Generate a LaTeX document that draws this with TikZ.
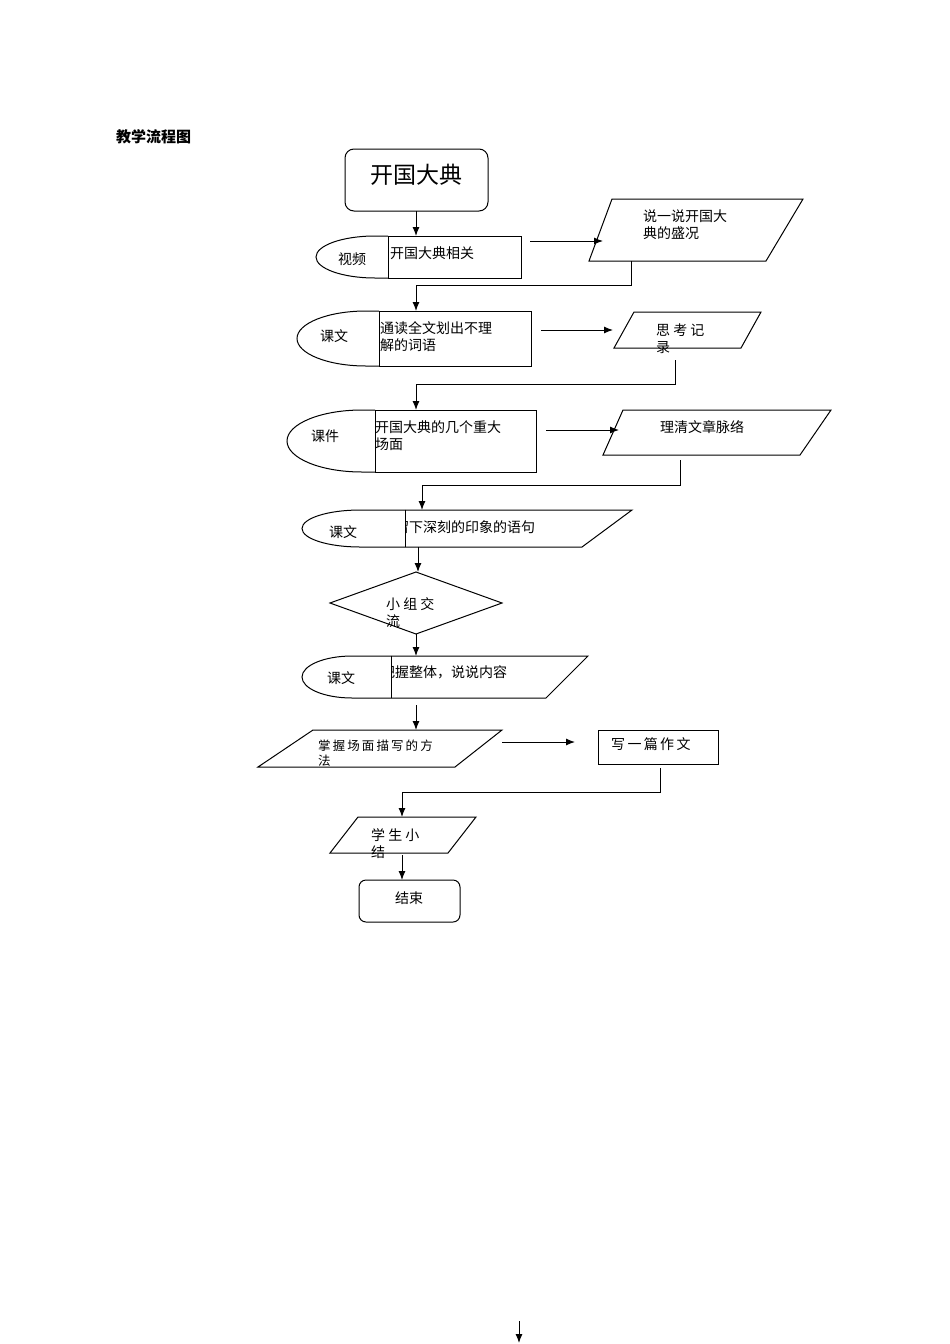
\documentclass[tikz,border=0pt]{standalone}
\usepackage{fontspec}
\setmainfont{Noto Sans CJK SC}
\usetikzlibrary{arrows.meta,calc}
\tikzset{
 ln/.style={draw=black,line width=1pt},
 arr/.style={ln,-{Latex[length=9pt,width=7pt]}},
 tx/.style={font=\fontsize{14}{17}\selectfont,inner sep=0pt,anchor=west,align=left},
 txs/.style={font=\fontsize{12.5}{15}\selectfont,inner sep=0pt,anchor=west,align=left},
}
% D-shape: xl, xa(end of curve), xr, top, bot
\newcommand\dsh[5]{%
 \path[ln,fill=white] (#3,#4) -- (#2,#4) .. controls ({#2-0.552*(#2-#1)},#4) and (#1,{(#4+#5)/2-0.276*(#5-#4)}) .. (#1,{(#4+#5)/2})
 .. controls (#1,{(#4+#5)/2+0.276*(#5-#4)}) and ({#2-0.552*(#2-#1)},#5) .. (#2,#5) -- (#3,#5);}
\begin{document}
\begin{tikzpicture}[x=1pt,y=-1pt]
\useasboundingbox[fill=white] (0,0) rectangle (950,1344);
\node[font=\bfseries\fontsize{15}{18}\selectfont,anchor=west,inner sep=0pt] (title) at (116,137) {教学流程图};
% start
\draw[ln,rounded corners=9pt] (345,149) rectangle (488,211);
\node[font=\fontsize{23}{26}\selectfont,inner sep=0pt] (start) at (416,175) {开国大典};
\coordinate (s1) at (416,211); \coordinate (r1t) at (416,236);
\draw[arr] (s1) -- (r1t);
% row1
\draw[ln] (388,236) rectangle (521,278);
\dsh{316}{375}{388}{236}{278}
\draw[ln] (388,236) -- (388,278);
\node[tx] (v1) at (338,259) {视频};
\node[tx] (r1) at (390,253) {开国大典相关};
\draw[ln] (612,199) -- (803,199) -- (766,261) -- (589,261) -- cycle;
\node[tx] (p1) at (643,225) {说一说开国大\\典的盛况};
\coordinate (a1s) at (530,241); \coordinate (a1e) at (603,241);
\draw[arr] (a1s) -- (a1e);
\coordinate (c1) at (631,261); \coordinate (r2t) at (416,311);
\draw[arr] (c1) |- (416,285) -- (r2t);
% row2
\draw[ln] (379,311) rectangle (531,366);
\dsh{297}{366}{379}{311}{366}
\draw[ln] (379,311) -- (379,366);
\node[tx] (v2) at (320,336) {课文};
\node[tx] (r2) at (380,337) {通读全文划出不理\\解的词语};
\draw[ln] (634,312) -- (761,312) -- (741,348) -- (614,348) -- cycle;
\node[tx] (p2) at (656,339) {思\ 考\ 记\\录};
\coordinate (a2s) at (541,330); \coordinate (a2e) at (613,330);
\draw[arr] (a2s) -- (a2e);
\coordinate (c2) at (675,360); \coordinate (r3t) at (416,410);
\draw[arr] (c2) |- (416,384) -- (r3t);
% row3
\draw[ln] (375,410) rectangle (536,472);
\dsh{287}{362}{375}{410}{472}
\draw[ln] (375,410) -- (375,472);
\node[tx] (v3) at (311,436) {课件};
\node[tx] (r3) at (375,436) {开国大典的几个重大\\场面};
\draw[ln] (623,410) -- (831,410) -- (800,455) -- (603,455) -- cycle;
\node[tx] (p3) at (660,427) {理清文章脉络};
\coordinate (a3s) at (546,430); \coordinate (a3e) at (619,430);
\draw[arr] (a3s) -- (a3e);
\coordinate (c3) at (680,460); \coordinate (r4t) at (422,510);
\draw[arr] (c3) |- (422,485) -- (r4t);
% row4
\draw[ln] (405,510) -- (632,510) -- (582,547) -- (405,547);
\node[tx] (r4) at (395,527) {留下深刻的印象的语句};
\dsh{302}{360}{405}{510}{547}
\draw[ln] (405,510) -- (405,547);
\node[tx] (v4) at (329,532) {课文};
\coordinate (r4b) at (418,547); \coordinate (dt) at (418,572);
\draw[arr] (r4b) -- (dt);
% diamond
\draw[ln] (330,603) -- (416,572) -- (502,603) -- (416,634) -- cycle;
\node[tx] (d) at (386,613) {小\ 组\ 交\\流};
\coordinate (db) at (416,634); \coordinate (r5t) at (416,656);
\draw[arr] (db) -- (r5t);
% row5
\draw[ln] (391,656) -- (588,656) -- (546,698) -- (391,698);
\node[tx] (r5) at (381,672) {把握整体，说说内容};
\dsh{302}{352}{391}{656}{698}
\draw[ln] (391,656) -- (391,698);
\node[tx] (v5) at (327,678) {课文};
\coordinate (r5b) at (416,705); \coordinate (p6t) at (416,730);
\draw[arr] (r5b) -- (p6t);
% row6
\draw[ln] (313,730) -- (502,730) -- (455,767) -- (258,767) -- cycle;
\node[txs] (p6) at (318,753) {掌\,握\,场\,面\,描\,写\,的\,方\\法};
\coordinate (a6s) at (502,742); \coordinate (a6e) at (575,742);
\draw[arr] (a6s) -- (a6e);
\draw[ln] (598,730) rectangle (718,764);
\node[tx] (w) at (611,744) {写\,一\,篇\,作\,文};
\coordinate (c6) at (660,768); \coordinate (p7t) at (402,817);
\draw[arr] (c6) |- (402,792) -- (p7t);
% row7
\draw[ln] (358,817) -- (476,817) -- (448,853) -- (330,853) -- cycle;
\node[tx] (p7) at (371,844) {学\ 生\ 小\\结};
\coordinate (p7b) at (402,855); \coordinate (et) at (402,880);
\draw[arr] (p7b) -- (et);
\draw[ln,rounded corners=7pt] (359,880) rectangle (460,922);
\node[tx,anchor=center] (end) at (409,898) {结束};
% stray arrow
\coordinate (x1) at (519,1321); \coordinate (x2) at (519,1343);
\draw[arr] (x1) -- (x2);
\end{tikzpicture}
\end{document}
